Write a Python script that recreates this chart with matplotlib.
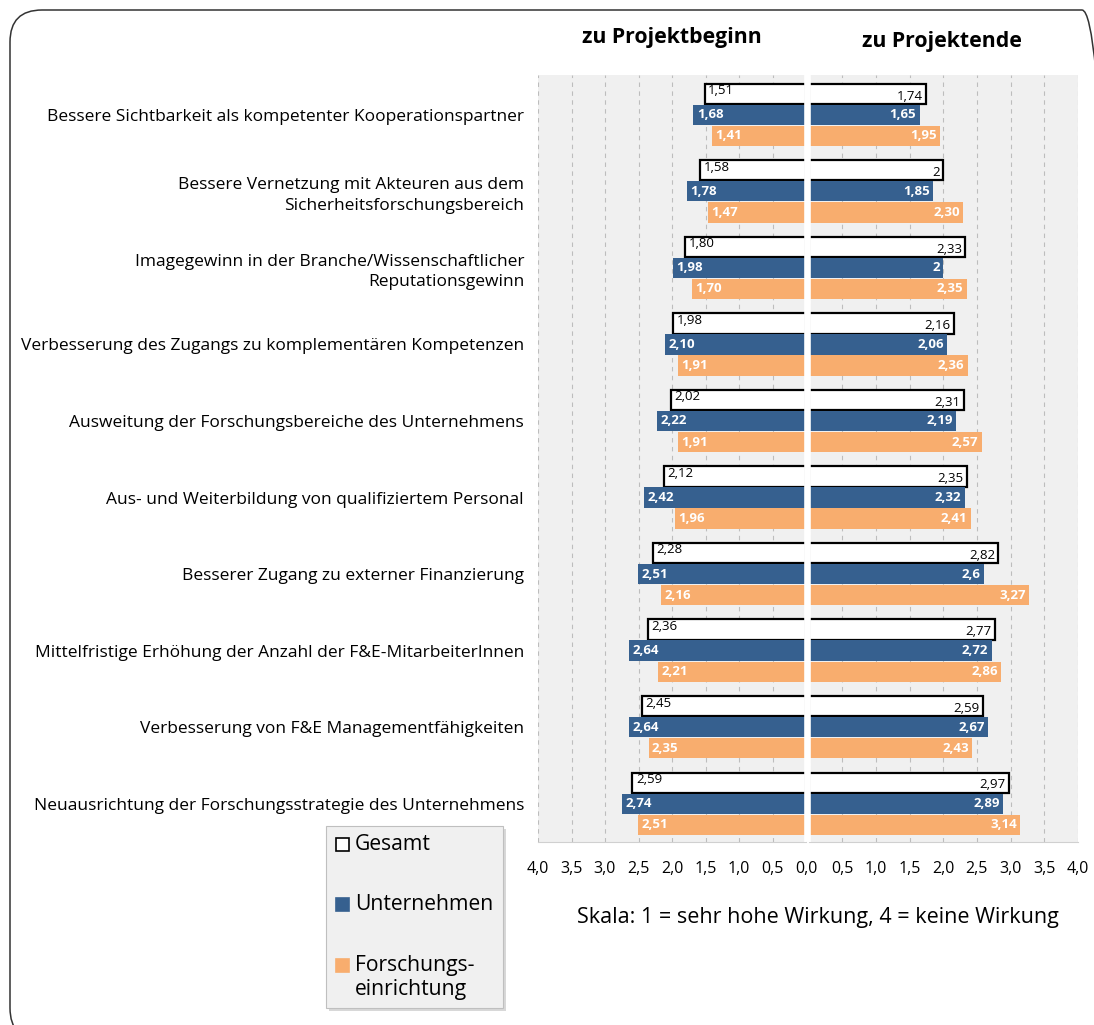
import matplotlib
matplotlib.use("Agg")
import matplotlib.pyplot as plt
from matplotlib.patches import FancyBboxPatch, Rectangle
import numpy as np

plt.rcParams['font.family'] = ['Open Sans', 'DejaVu Sans']

# Wirkungsdimensionen (von oben nach unten)
categories = [
    "Bessere Sichtbarkeit als kompetenter Kooperationspartner",
    "Bessere Vernetzung mit Akteuren aus dem\nSicherheitsforschungsbereich",
    "Imagegewinn in der Branche/Wissenschaftlicher\nReputationsgewinn",
    "Verbesserung des Zugangs zu komplementären Kompetenzen",
    "Ausweitung der Forschungsbereiche des Unternehmens",
    "Aus- und Weiterbildung von qualifiziertem Personal",
    "Besserer Zugang zu externer Finanzierung",
    "Mittelfristige Erhöhung der Anzahl der F&E-MitarbeiterInnen",
    "Verbesserung von F&E Managementfähigkeiten",
    "Neuausrichtung der Forschungsstrategie des Unternehmens",
]

# Mittelwerte, so wie sie beschriftet werden (Dezimalkomma)
beginn_gesamt = ["1,51", "1,58", "1,80", "1,98", "2,02", "2,12", "2,28", "2,36", "2,45", "2,59"]
beginn_unternehmen = ["1,68", "1,78", "1,98", "2,10", "2,22", "2,42", "2,51", "2,64", "2,64", "2,74"]
beginn_forschung = ["1,41", "1,47", "1,70", "1,91", "1,91", "1,96", "2,16", "2,21", "2,35", "2,51"]

ende_gesamt = ["1,74", "2", "2,33", "2,16", "2,31", "2,35", "2,82", "2,77", "2,59", "2,97"]
ende_unternehmen = ["1,65", "1,85", "2", "2,06", "2,19", "2,32", "2,6", "2,72", "2,67", "2,89"]
ende_forschung = ["1,95", "2,30", "2,35", "2,36", "2,57", "2,41", "3,27", "2,86", "2,43", "3,14"]

series_names = ["Gesamt", "Unternehmen", "Forschungs-\neinrichtung"]
tick_values = [0.0, 0.5, 1.0, 1.5, 2.0, 2.5, 3.0, 3.5, 4.0]

BLUE = "#36608F"
ORANGE = "#F8AD6E"
BG = "#F0F0F0"
GRID = "#BDBDBD"

W, H = 1094, 1025


def to_float(s):
    return float(s.replace(",", "."))


def fmt_tick(v):
    return f"{v:.1f}".replace(".", ",")


fig = plt.figure(figsize=(W / 100, H / 100), dpi=100)

# rounded frame around the whole chart (pixel coordinates)
frame = FancyBboxPatch((10, -15), 1104, 1030, boxstyle="round,pad=0,rounding_size=32",
                       transform=None, fill=False, edgecolor="#333333", linewidth=1.1)
fig.add_artist(frame)

bottom = (H - 842) / H
height = (842 - 75) / H
ax_l = fig.add_axes([538 / W, bottom, 268 / W, height])
ax_r = fig.add_axes([808.5 / W, bottom, 269.5 / W, height])

y = np.arange(len(categories))
off = 0.275
bh = 0.265
VAL_FS = 9.5


def draw_side(ax, gesamt, unternehmen, forschung, left):
    g = [to_float(s) for s in gesamt]
    u = [to_float(s) for s in unternehmen]
    f = [to_float(s) for s in forschung]
    ax.set_facecolor(BG)
    ax.barh(y - off, g, height=bh, color="white", edgecolor="black", linewidth=1.6, zorder=3)
    ax.barh(y, u, height=bh, color=BLUE, zorder=3)
    ax.barh(y + off, f, height=bh, color=ORANGE, zorder=3)
    # white strip along the zero line hides the inner bar edges
    ax.axvline(0, color="white", linewidth=2.6, zorder=3.5)

    ha = "left" if left else "right"
    g_shift = -0.04 if left else 0.03
    for i in range(len(y)):
        ax.text(g[i] - 0.05, y[i] - off + g_shift, gesamt[i], ha=ha, va="center",
                fontsize=VAL_FS, color="black", zorder=4)
        ax.text(u[i] - 0.05, y[i], unternehmen[i], ha=ha, va="center",
                fontsize=VAL_FS, color="white", fontweight="bold", zorder=4)
        ax.text(f[i] - 0.05, y[i] + off, forschung[i], ha=ha, va="center",
                fontsize=VAL_FS, color="white", fontweight="bold", zorder=4)

    ax.set_ylim(len(y) - 1 + 0.5, -0.52)
    ax.set_xticks(tick_values)
    ax.grid(axis="x", linestyle=(0, (4, 4)), color=GRID, linewidth=0.8, zorder=0)
    ax.set_axisbelow(True)
    for side in ["top", "left", "right"]:
        ax.spines[side].set_visible(False)
    ax.spines["bottom"].set_color("#D0D0D0")
    ax.tick_params(axis="both", length=0, labelsize=11.5, pad=14)
    ax.set_yticks([])


draw_side(ax_l, beginn_gesamt, beginn_unternehmen, beginn_forschung, left=True)
draw_side(ax_r, ende_gesamt, ende_unternehmen, ende_forschung, left=False)

ax_l.set_xlim(4, 0)
ax_r.set_xlim(0, 4)
ax_l.set_xticklabels([fmt_tick(v) for v in tick_values])
ax_r.set_xticklabels([""] + [fmt_tick(v) for v in tick_values[1:]])

# category labels to the left of the chart
ax_l.set_yticks(y)
ax_l.set_yticklabels(categories, fontsize=12.5, linespacing=1.35)
ax_l.tick_params(axis="y", pad=10)

fig.text(672 / W, 1 - 38 / H, "zu Projektbeginn", ha="center", va="center",
         fontsize=15.3, fontweight="bold")
fig.text(942 / W, 1 - 42 / H, "zu Projektende", ha="center", va="center",
         fontsize=15.3, fontweight="bold")
fig.text(818 / W, 1 - 918 / H, "Skala: 1 = sehr hohe Wirkung, 4 = keine Wirkung",
         ha="center", va="center", fontsize=15.5)

# legend box
shadow = Rectangle((329, H - 1011), 177, 182, transform=None, facecolor="#D8D8D8",
                   edgecolor="none", zorder=1)
box = Rectangle((326, H - 1008), 177, 182, transform=None, facecolor=BG,
                edgecolor="#BFBFBF", linewidth=0.8, zorder=2)
fig.add_artist(shadow)
fig.add_artist(box)
legend_colors = [("white", "black"), (BLUE, BLUE), (ORANGE, ORANGE)]
legend_y = [844, 904, 965]
for (fc, ec), name, ly in zip(legend_colors, series_names, legend_y):
    fig.add_artist(Rectangle((336, H - ly - 7), 13, 13, transform=None, facecolor=fc,
                             edgecolor=ec, linewidth=1.2, zorder=3))
    # first line of each entry sits level with its marker
    fig.text(355 / W, 1 - (ly - 10) / H, name, ha="left", va="top",
             fontsize=15.2, linespacing=1.2, zorder=4)

fig.savefig("out.png", dpi=100)
